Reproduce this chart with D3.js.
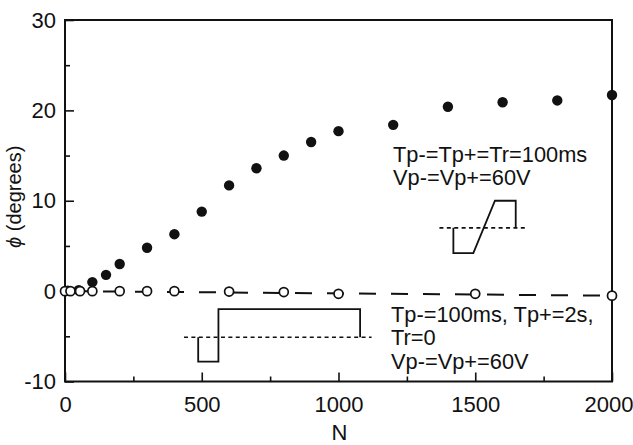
<!DOCTYPE html>
<html>
<head>
<meta charset="utf-8">
<script src="https://cdn.jsdelivr.net/npm/d3@7/dist/d3.min.js"></script>
<style>
  html, body { margin: 0; padding: 0; background: #fff; }
  svg { display: block; }
  text { font-family: "Liberation Sans", Arial, sans-serif; fill: #111; }
</style>
</head>
<body>
<svg id="chart" width="633" height="445"></svg>
<script>
// ---- data ----
const filledN   = [10, 50, 100, 150, 200, 300, 400, 500, 600, 700, 800, 900, 1000, 1200, 1400, 1600, 1800, 2000];
const filledPhi = [0.05, 0.1, 1.0, 1.8, 3.0, 4.8, 6.3, 8.8, 11.7, 13.6, 15.0, 16.5, 17.7, 18.4, 20.4, 20.9, 21.1, 21.7];
const openN     = [0, 20, 55, 100, 200, 300, 400, 600, 800, 1000, 1500, 2000];
const openPhi   = [0, 0, 0, 0, 0, 0, 0, -0.05, -0.1, -0.3, -0.3, -0.5];
const fitN      = [0, 2000];
const fitPhi    = [0, -0.5];
const xTicks    = [0, 500, 1000, 1500, 2000];
const xMinor    = [250, 750, 1250, 1750];
const yTicks    = [-10, 0, 10, 20, 30];
const yMinor    = [-5, 5, 15, 25];
// pulse-shape insets (in data units)
const inset1BaseN = [1369, 1688], inset1BasePhi = [7, 7];
const inset1N   = [1420, 1420, 1493, 1572, 1648, 1648];
const inset1Phi = [7, 4.2, 4.2, 10.0, 10.0, 7];
const inset2BaseN = [435, 1121], inset2BasePhi = [-5.1, -5.1];
const inset2N   = [487, 487, 561, 561, 1079, 1079];
const inset2Phi = [-5.1, -7.8, -7.8, -2.0, -2.0, -5.1];
const label1 = ["Tp-=Tp+=Tr=100ms", "Vp-=Vp+=60V"];
const label2 = ["Tp-=100ms, Tp+=2s,", "Tr=0", "Vp-=Vp+=60V"];

// ---- layout ----
const L = 65, R = 612, T = 20, B = 381.5;
const svg = d3.select("#chart");
const x = d3.scaleLinear().domain([0, 2000]).range([L, R]);
const y = d3.scaleLinear().domain([-10, 30]).range([B, T]);
const fmt = d => String(d); // hyphen-minus like the original

// frame
svg.append("rect").attr("x", L).attr("y", T).attr("width", R - L).attr("height", B - T)
  .attr("fill", "none").attr("stroke", "#111").attr("stroke-width", 2);

// x axis
const xAx = svg.append("g").attr("transform", `translate(0,${B})`)
  .call(d3.axisBottom(x).tickValues(xTicks).tickSize(-9).tickFormat(fmt));
svg.append("g").attr("transform", `translate(0,${B})`)
  .call(d3.axisBottom(x).tickValues(xMinor).tickSize(-5).tickFormat(""));
// y axis
const yAx = svg.append("g").attr("transform", `translate(${L},0)`)
  .call(d3.axisLeft(y).tickValues(yTicks).tickSize(-9).tickFormat(fmt));
svg.append("g").attr("transform", `translate(${L},0)`)
  .call(d3.axisLeft(y).tickValues(yMinor).tickSize(-5).tickFormat(""));

svg.selectAll(".domain").remove();
svg.selectAll(".tick line").attr("stroke", "#111").attr("stroke-width", 1.6);
svg.selectAll(".tick text").attr("fill", "#111").style("font-size", "22px")
  .style("font-family", '"Liberation Sans", Arial, sans-serif');
xAx.selectAll(".tick text").attr("dy", "0.71em").attr("y", 15);
xAx.selectAll(".tick").filter(d => d === 2000).select("text").attr("text-anchor", "end").attr("x", 21);
yAx.selectAll(".tick text").attr("x", -9);

// axis titles
svg.append("text").attr("x", (L + R) / 2 + 1).attr("y", 440).attr("text-anchor", "middle")
  .style("font-size", "22px").text("N");
const yl = svg.append("text").attr("transform", `translate(21,${(T + B) / 2 - 4}) rotate(-90)`)
  .attr("text-anchor", "middle").style("font-size", "20px");
yl.append("tspan").style("font-style", "italic").text("ϕ");
yl.append("tspan").text(" (degrees)");

// fit dashed line
const line = d3.line().x(d => x(d[0])).y(d => y(d[1]));
svg.append("path").datum(d3.zip(fitN, fitPhi)).attr("d", line)
  .attr("fill", "none").attr("stroke", "#111").attr("stroke-width", 2)
  .attr("stroke-dasharray", "17,15").attr("stroke-dashoffset", -6);

// insets
function inset(bn, bp, n, p) {
  svg.append("path").datum(d3.zip(bn, bp)).attr("d", line)
    .attr("fill", "none").attr("stroke", "#111").attr("stroke-width", 1.6)
    .attr("stroke-dasharray", "4,3.4");
  svg.append("path").datum(d3.zip(n, p)).attr("d", line)
    .attr("fill", "none").attr("stroke", "#111").attr("stroke-width", 1.8)
    .attr("stroke-linejoin", "miter");
}
inset(inset1BaseN, inset1BasePhi, inset1N, inset1Phi);
inset(inset2BaseN, inset2BasePhi, inset2N, inset2Phi);

// filled points
svg.append("g").selectAll("circle").data(d3.zip(filledN, filledPhi)).join("circle")
  .attr("cx", d => x(d[0])).attr("cy", d => y(d[1])).attr("r", 5.2).attr("fill", "#111");
// open points
svg.append("g").selectAll("circle").data(d3.zip(openN, openPhi)).join("circle")
  .attr("cx", d => x(d[0])).attr("cy", d => y(d[1])).attr("r", 4.5)
  .attr("fill", "#fff").attr("stroke", "#111").attr("stroke-width", 1.7);

// annotation text
function textBlock(lines, x0, y0, dy) {
  const t = svg.append("text").attr("x", x0).attr("y", y0).style("font-size", "21.8px");
  lines.forEach((s, i) => t.append("tspan").attr("x", x0).attr("y", y0 + i * dy).text(s));
}
textBlock(label1, 393, 162, 23);
textBlock(label2, 391, 322, 23.3);
</script>
</body>
</html>
